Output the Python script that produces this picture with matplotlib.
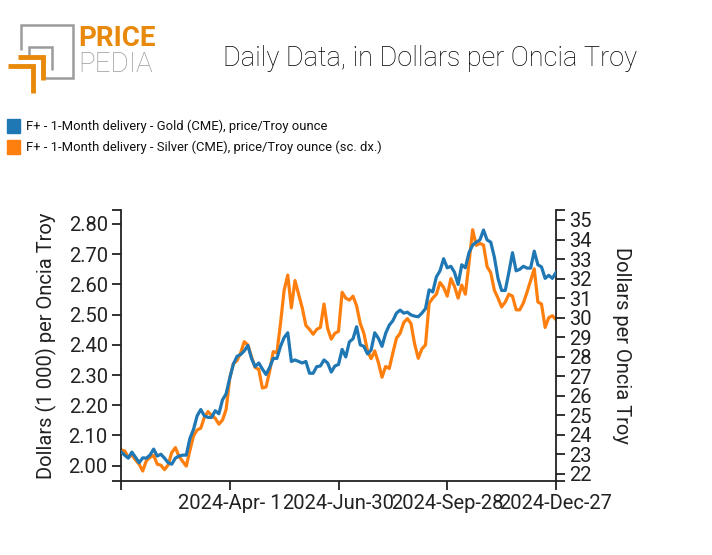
import matplotlib
matplotlib.use("Agg")
import matplotlib.pyplot as plt
import matplotlib.dates as mdates
from matplotlib.ticker import FixedLocator
from matplotlib.patches import Rectangle
import pandas as pd

plt.rcParams["font.family"] = ["Roboto", "DejaVu Sans"]

# one reading every 3 days, 2024-01-02 .. 2024-12-27
dates = pd.date_range("2024-01-02", "2024-12-27", freq="3D")

gold = [
    2.046, 2.035, 2.025, 2.045, 2.028, 2.010, 2.026, 2.025, 2.035, 2.055,
    2.032, 2.038, 2.025, 2.010, 2.005, 2.025, 2.032, 2.035, 2.035, 2.090,
    2.120, 2.165, 2.186, 2.165, 2.160, 2.160, 2.182, 2.172, 2.218, 2.238,
    2.290, 2.336, 2.362, 2.368, 2.380, 2.398, 2.355, 2.328, 2.340, 2.320,
    2.302, 2.325, 2.355, 2.355, 2.395, 2.424, 2.440, 2.345, 2.350, 2.345,
    2.340, 2.345, 2.306, 2.306, 2.328, 2.330, 2.350, 2.340, 2.310, 2.330,
    2.335, 2.385, 2.360, 2.410, 2.420, 2.460, 2.400, 2.395, 2.370, 2.383,
    2.440, 2.422, 2.395, 2.438, 2.465, 2.480, 2.505, 2.515, 2.505, 2.508,
    2.499, 2.495, 2.493, 2.505, 2.520, 2.582, 2.575, 2.625, 2.645, 2.685,
    2.655, 2.660, 2.640, 2.600, 2.665, 2.655, 2.705, 2.730, 2.740, 2.747,
    2.780, 2.747, 2.740, 2.690, 2.620, 2.580, 2.580, 2.640, 2.705, 2.645,
    2.650, 2.660, 2.654, 2.654, 2.710, 2.665, 2.658, 2.620, 2.630, 2.620,
    2.640,
]

silver = [
    23.23, 23.18, 22.85, 22.97, 22.72, 22.50, 22.15, 22.68, 22.85, 22.95,
    22.50, 22.45, 22.22, 22.46, 23.10, 23.35, 22.90, 22.65, 22.40, 23.20,
    23.95, 24.25, 24.34, 24.90, 25.19, 25.00, 24.85, 24.55, 24.76, 25.30,
    26.90, 27.65, 27.80, 28.20, 28.77, 28.60, 28.00, 27.45, 27.35, 26.40,
    26.45, 27.25, 28.26, 28.20, 29.70, 31.40, 32.18, 30.50, 31.90, 31.20,
    30.50, 29.60, 29.40, 29.15, 29.40, 29.50, 30.70, 29.45, 28.90, 29.20,
    29.30, 31.30, 31.00, 30.90, 31.10, 30.60, 29.70, 29.20, 28.30, 27.90,
    28.30, 27.70, 26.95, 27.50, 27.40, 28.20, 28.95, 29.20, 29.75, 29.95,
    29.70, 28.65, 27.92, 28.40, 28.60, 30.74, 31.00, 31.20, 31.80, 31.55,
    31.10, 32.00, 31.60, 31.00, 31.67, 31.20, 32.80, 34.50, 33.70, 33.80,
    33.72, 32.61, 32.30, 31.40, 31.00, 30.55, 30.80, 31.20, 31.10, 30.40,
    30.40, 30.75, 31.30, 31.90, 32.50, 30.80, 30.70, 29.50, 30.00, 30.10,
    29.90,
]

x_ticks = ["2024-01-02", "2024-04-01", "2024-06-30", "2024-09-28", "2024-12-27"]
x_labels = ["", "2024-Apr- 1", "2024-Jun-30", "2024-Sep-28", "2024-Dec-27"]
left_ticks = [2.00, 2.10, 2.20, 2.30, 2.40, 2.50, 2.60, 2.70, 2.80]
right_ticks = list(range(22, 36))

gold_label = "F+ - 1-Month delivery - Gold (CME), price/Troy ounce"
silver_label = "F+ - 1-Month delivery - Silver (CME), price/Troy ounce (sc. dx.)"

blue = "#1f77b4"
orange = "#ff7f0e"
ink = "#222222"

fig = plt.figure(figsize=(7.12, 5.55), dpi=100)
W, H = 712, 555


def fx(px):
    return px / W


def fy(py):
    return 1 - py / H


ax = fig.add_axes([fx(121), fy(481), fx(556) - fx(121), fy(210) - fy(481)])
ax2 = ax.twinx()

ax.plot(dates, gold, color=blue, lw=2.3, zorder=3)
ax2.plot(dates, silver, color=orange, lw=2.3, zorder=2)
ax.set_zorder(ax2.get_zorder() + 1)
ax.patch.set_visible(False)

ax.set_xlim(pd.Timestamp(x_ticks[0]), pd.Timestamp(x_ticks[-1]))
ax.set_ylim(1.9494, 2.8463)
ax2.set_ylim(21.64, 35.51)

ax.xaxis.set_major_locator(FixedLocator(mdates.date2num(pd.to_datetime(x_ticks))))
ax.set_xticklabels(x_labels)
ax.yaxis.set_major_locator(FixedLocator(left_ticks))
ax.set_yticklabels([f"{v:.2f}" for v in left_ticks])
ax.yaxis.set_minor_locator(FixedLocator(list(ax.get_ylim())))
ax2.yaxis.set_major_locator(FixedLocator(right_ticks))
ax2.set_yticklabels([str(v) for v in right_ticks])
ax2.yaxis.set_minor_locator(FixedLocator(list(ax2.get_ylim())))

for a in (ax, ax2):
    for s in a.spines.values():
        s.set_linewidth(1.3)
        s.set_color(ink)
    a.spines["top"].set_visible(False)
    a.tick_params(which="both", length=6.5, width=1.3, color=ink,
                  labelsize=14.5, labelcolor=ink, pad=3)
ax.spines["right"].set_visible(False)
ax2.spines["left"].set_visible(False)
ax2.spines["bottom"].set_visible(False)

ax.set_ylabel("Dollars (1 000) per Oncia Troy", fontsize=14.5, color=ink, labelpad=8)
ax2.set_ylabel("Dollars per Oncia Troy", fontsize=14.5, color=ink,
               rotation=-90, labelpad=28)

fig.text(fx(430), fy(58), "Daily Data, in Dollars per Oncia Troy",
         ha="center", va="center", fontsize=19.5, color="#000000", fontweight="light")

# legend
for i, (lab, col) in enumerate([(gold_label, blue), (silver_label, orange)]):
    top = 119 + 21 * i
    fig.patches.append(Rectangle((fx(7), fy(top + 14)), fx(13), fy(top) - fy(top + 14),
                                 transform=fig.transFigure, color=col))
    fig.text(fx(26), fy(top + 7), lab, ha="left", va="center",
             fontsize=9.4, color="#111111")

# logo
gray = "#9b9b9b"
logo_orange = "#e8890c"


def seg(xs, ys, color, lw):
    fig.add_artist(plt.Line2D([fx(v) for v in xs], [fy(v) for v in ys],
                              color=color, lw=lw, solid_capstyle="butt",
                              solid_joinstyle="miter", transform=fig.transFigure))


seg([20.7, 20.7, 72.7, 72.7, 43.3], [50, 25, 25, 78.3, 78.3], gray, 1.8)
seg([29.5, 29.5, 51.7, 51.7], [55, 46.7, 46.7, 70], gray, 1.8)
seg([18.3, 42.5, 42.5], [56.7, 56.7, 80], logo_orange, 3.5)
seg([8.3, 32.5, 32.5], [65.5, 65.5, 93], logo_orange, 3.5)
fig.text(fx(78), fy(39), "PRICE", ha="left", va="center", fontsize=20,
         fontweight="bold", color=logo_orange)
fig.text(fx(78), fy(65), "PEDIA", ha="left", va="center", fontsize=20,
         fontweight="light", color=gray)

fig.savefig("out.png", dpi=100, facecolor="white")
